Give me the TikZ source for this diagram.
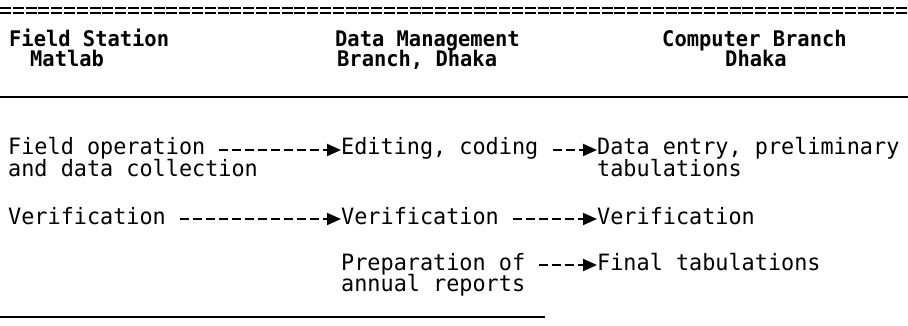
\documentclass[tikz,border=0pt]{standalone}
\usepackage{fontspec}
\newfontfamily\typew{DejaVu Sans Mono}[FakeStretch=0.97]
\newfontfamily\headtw{DejaVu Sans Mono}[FakeStretch=0.95]
\usetikzlibrary{arrows.meta}
\tikzset{
  txt/.style={inner sep=0pt, anchor=base west, text height=15pt, text depth=5pt,
    font=\fontsize{22.5}{26}\selectfont\typew},
  head/.style={inner sep=0pt, anchor=base west, text height=14.5pt, text depth=4pt,
    font=\fontsize{21.5}{25}\selectfont\headtw\bfseries},
  flow/.style={line width=2pt, dash pattern=on 9pt off 4pt,
    -{Triangle[length=14pt,width=12pt]}},
  rule/.style={line width=1.6pt},
  eqrule/.style={line width=1.6pt, dash pattern=on 11pt off 1.8pt}
}

\begin{document}
\begin{tikzpicture}[x=1pt,y=-1pt]
\useasboundingbox (0,0) rectangle (908,326);

% rules
\draw[eqrule] (0,8) -- (908,8);
\draw[eqrule] (0,13) -- (908,13);
\draw[rule] (0,97) -- (908,97);
\draw[rule] (0,317) -- (545,317);

% headings
\node[head] (h1) at (9,47) {Field Station};
\node[head] (h1b) at (30,67) {Matlab};
\node[head] (h2) at (335,47) {Data Management};
\node[head] (h2b) at (337,67) {Branch, Dhaka};
\node[head] (h3) at (662,47) {Computer Branch};
\node[head] (h3b) at (725,67) {Dhaka};

% first row
\node[txt] (fo) at (8,155) {Field operation};
\node[txt] (fob) at (8,176) {and data collection};
\node[txt] (ed) at (341,155) {Editing, coding};
\node[txt] (de) at (597,155) {Data entry, preliminary};
\node[txt] (deb) at (597,176) {tabulations};

% second row
\node[txt] (v1) at (8,224) {Verification};
\node[txt] (v2) at (341,224) {Verification};
\node[txt] (v3) at (597,224) {Verification};

% third row
\node[txt] (pr) at (341,270) {Preparation of};
\node[txt] (prb) at (341,291) {annual reports};
\node[txt] (ft) at (597,270) {Final tabulations};

\draw[flow] ([xshift=14pt]fo.east) -- (ed.west);
\draw[flow] ([xshift=14pt]ed.east) -- (de.west);
\draw[flow] ([xshift=14pt]v1.east) -- (v2.west);
\draw[flow] ([xshift=14pt]v2.east) -- (v3.west);
\draw[flow] ([xshift=14pt]pr.east) -- (ft.west);

\end{tikzpicture}
\end{document}
